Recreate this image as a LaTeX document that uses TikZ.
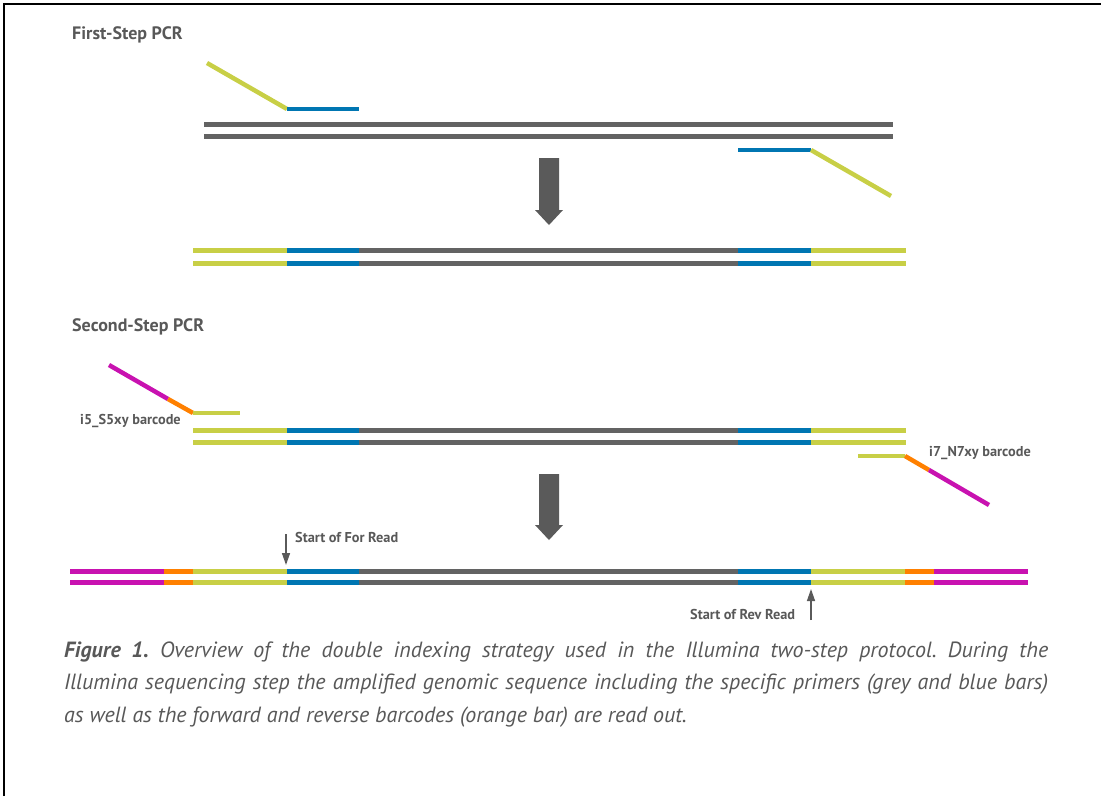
\documentclass[tikz,border=0pt]{standalone}
\usepackage{fontspec}
\setmainfont{PT Sans}
\usetikzlibrary{arrows.meta}

\definecolor{dnagrey}{RGB}{99,99,99}
\definecolor{pblue}{RGB}{0,118,178}
\definecolor{pyellow}{RGB}{200,207,70}
\definecolor{pmagenta}{RGB}{200,18,176}
\definecolor{porange}{RGB}{255,128,0}
\definecolor{txtgrey}{RGB}{88,88,88}
\definecolor{arrowgrey}{RGB}{90,90,90}

% two parallel strands; #3 is a list of x-start/x-end/colour segments
\newcommand\duplex[3]{%
  \foreach \xa/\xb/\col in {#3} {
    \draw[strand,\col] (\xa,#1) -- (\xb,#1);
    \draw[strand,\col] (\xa,#2) -- (\xb,#2);
  }%
}

\tikzset{
  strand/.style={line width=5pt},
  primer/.style={line width=4.5pt},
  heading/.style={anchor=west, inner sep=0pt, text=txtgrey, font=\bfseries\fontsize{18}{20}\selectfont},
  tag/.style={anchor=west, inner sep=0pt, text=txtgrey, font=\bfseries\fontsize{14.3}{16}\selectfont},
  capline/.style={anchor=west, inner sep=0pt, text=txtgrey, font=\itshape\fontsize{22}{26}\selectfont},
  readarrow/.style={draw=arrowgrey, line width=1.4pt, -{Triangle[length=12pt,width=8pt]}},
  bigarrow/.style={fill=arrowgrey},
}

\begin{document}
\frenchspacing
\begin{tikzpicture}[x=1pt,y=-1pt]
\useasboundingbox (0,0) rectangle (1101,796);

% frame (top and left edges)
\draw[line width=2.5pt, black] (4,796) -- (4,4) -- (1101,4);

% ---------- First-Step PCR ----------
\node[heading] (t1) at (72,35) {First-Step PCR};

% forward primer
\draw[primer,pyellow] (207,63) -- (287,109);
\draw[primer,pblue] (287,109) -- (359,109);
% template
\duplex{124}{136}{204/893/dnagrey}
% reverse primer
\draw[primer,pblue] (738,150) -- (811,150);
\draw[primer,pyellow] (811,150) -- (891,196);

\fill[bigarrow] (539,158) -- (559,158) -- (559,210) -- (563,210) -- (549,225) -- (535,210) -- (539,210) -- cycle;

% first product
\duplex{250}{263}{193/287/pyellow, 287/359/pblue, 359/738/dnagrey, 738/811/pblue, 811/906/pyellow}

% ---------- Second-Step PCR ----------
\node[heading] (t2) at (72,327) {Second-Step PCR};

% i5 primer
\draw[primer,pmagenta] (109,365) -- (168,399);
\draw[primer,porange] (168,399) -- (193,413);
\draw[primer,pyellow] (193,413) -- (240,413);
\node[tag] (i5) at (80,421) {i5\_S5xy barcode};

\duplex{430}{442}{193/287/pyellow, 287/359/pblue, 359/738/dnagrey, 738/811/pblue, 811/906/pyellow}

% i7 primer
\draw[primer,pyellow] (858,456) -- (905,456);
\draw[primer,porange] (905,456) -- (929,470);
\draw[primer,pmagenta] (929,470) -- (989,505);
\node[tag] (i7) at (929,453) {i7\_N7xy barcode};

\fill[bigarrow] (539,474) -- (559,474) -- (559,525) -- (563,525) -- (549,540) -- (535,525) -- (539,525) -- cycle;

% final library fragment
\duplex{571}{582}{70/164/pmagenta, 164/193/porange, 193/287/pyellow, 287/359/pblue, 359/738/dnagrey, 738/811/pblue, 811/905/pyellow, 905/934/porange, 934/1028/pmagenta}

% read start markers
\coordinate (forTop) at (286,534);
\coordinate (forTip) at (286,565);
\draw[readarrow] (forTop) -- (forTip);
\node[tag] (forlbl) at (295,537) {Start of For Read};

\coordinate (revBot) at (811,620);
\coordinate (revTip) at (811,589);
\draw[readarrow] (revBot) -- (revTip);
\node[tag] (revlbl) at (690,614) {Start of Rev Read};

% ---------- caption ----------
\node[capline] (c1) at (64,652) {\makebox[984pt][s]{\textbf{Figure 1.} Overview of the double indexing strategy used in the Illumina two-step protocol. During the}};
\node[capline] (c2) at (64,684) {\makebox[984pt][s]{Illumina sequencing step the amplified genomic sequence including the specific primers (grey and blue bars)}};
\node[capline] (c3) at (64,717) {as well as the forward and reverse barcodes (orange bar) are read out.};
\end{tikzpicture}
\end{document}
